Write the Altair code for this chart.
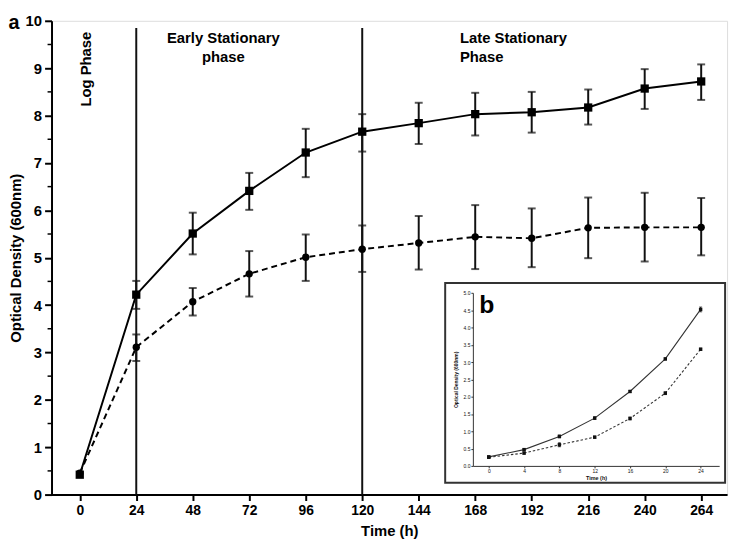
import altair as alt
import pandas as pd

# ---------------- data ----------------
time_h = [0, 24, 48, 72, 96, 120, 144, 168, 192, 216, 240, 264]

od_solid = [0.42, 4.22, 5.51, 6.41, 7.22, 7.66, 7.84, 8.03, 8.07, 8.17, 8.57, 8.72]
lo_solid = [0.42, 3.92, 5.07, 6.01, 6.70, 7.24, 7.40, 7.58, 7.64, 7.81, 8.14, 8.33]
hi_solid = [0.42, 4.51, 5.95, 6.79, 7.72, 8.03, 8.27, 8.48, 8.50, 8.55, 8.98, 9.08]

od_dash = [0.45, 3.11, 4.07, 4.66, 5.01, 5.18, 5.31, 5.44, 5.41, 5.63, 5.64, 5.64]
lo_dash = [0.45, 2.82, 3.78, 4.18, 4.51, 4.70, 4.75, 4.76, 4.80, 4.99, 4.92, 5.05]
hi_dash = [0.45, 3.38, 4.36, 5.14, 5.49, 5.68, 5.88, 6.11, 6.04, 6.27, 6.37, 6.26]

phase_bounds = [24, 120]
y_ticks_minor = [0.5, 1.5, 2.5, 3.5, 4.5, 5.5, 6.5, 7.5, 8.5, 9.5]

phase_text = ["Log Phase", "Early Stationary", "phase", "Late Stationary", "Phase"]
phase_x = [2.5, 61, 61, 161.5, 161.5]
phase_y = [8.98, 9.64, 9.24, 9.64, 9.24]

inset_time = [0, 4, 8, 12, 16, 20, 24]
inset_solid = [0.26, 0.47, 0.85, 1.38, 2.15, 3.09, 4.52]
inset_solid_err = [0.02, 0.03, 0.04, 0.04, 0.03, 0.03, 0.07]
inset_dash = [0.25, 0.37, 0.61, 0.83, 1.37, 2.10, 3.37]
inset_dash_err = [0.02, 0.03, 0.06, 0.03, 0.04, 0.04, 0.03]

FONT = "Liberation Sans"

main_df = pd.DataFrame({
    "t": time_h * 2,
    "od": od_solid + od_dash,
    "lo": lo_solid + lo_dash,
    "hi": hi_solid + hi_dash,
    "s": ["solid"] * len(time_h) + ["dash"] * len(time_h),
})
solid_df = main_df[main_df.s == "solid"]
dash_df = main_df[main_df.s == "dash"]
err_df = main_df[main_df.t > 0]

bounds_df = pd.DataFrame({"t": phase_bounds})
minor_df = pd.DataFrame({"v": y_ticks_minor})
phase_df = pd.DataFrame({"label": phase_text, "x": phase_x, "y": phase_y})

inset_df = pd.DataFrame({
    "t": inset_time * 2,
    "od": inset_solid + inset_dash,
    "lo": [v - e for v, e in zip(inset_solid, inset_solid_err)] + [v - e for v, e in zip(inset_dash, inset_dash_err)],
    "hi": [v + e for v, e in zip(inset_solid, inset_solid_err)] + [v + e for v, e in zip(inset_dash, inset_dash_err)],
    "s": ["solid"] * len(inset_time) + ["dash"] * len(inset_time),
})
inset_solid_df = inset_df[inset_df.s == "solid"]
inset_dash_df = inset_df[inset_df.s == "dash"]

# ---------------- main panel ----------------
xs = alt.Scale(domain=[-12, 275], nice=False, zero=False)
ys = alt.Scale(domain=[0, 10], nice=False, zero=False)
xaxis = alt.Axis(values=time_h, title="Time (h)", tickSize=6, tickWidth=2, domainWidth=2,
                 labelFontSize=14, labelFontWeight="bold", titleFontSize=15, titleFontWeight="bold",
                 labelPadding=3, titlePadding=6, grid=False, labelFlush=False,
                 domainColor="black", tickColor="black", labelColor="black", titleColor="black")
yaxis = alt.Axis(values=list(range(0, 11)), title="Optical Density (600nm)", tickSize=7, tickWidth=2,
                 domainWidth=2, labelFontSize=15, labelFontWeight="bold", titleFontSize=15,
                 titleFontWeight="bold", labelPadding=3, titlePadding=2, grid=False, labelFlush=False,
                 domainColor="black", tickColor="black", labelColor="black", titleColor="black")


def X(f):
    return alt.X(f, type="quantitative", scale=xs, axis=xaxis)


def Y(f):
    return alt.Y(f, type="quantitative", scale=ys, axis=yaxis)


rules = alt.Chart(bounds_df).mark_rule(color="#111", strokeWidth=2).encode(
    x=X("t"), y=alt.Y(datum=9.85, scale=ys, axis=yaxis), y2=alt.Y2(datum=0))

line_solid = alt.Chart(solid_df).mark_line(color="black", strokeWidth=2).encode(x=X("t"), y=Y("od"))
line_dash = alt.Chart(dash_df).mark_line(color="black", strokeWidth=2, strokeDash=[6, 4]).encode(
    x=X("t"), y=Y("od"))

err = alt.Chart(err_df).mark_rule(color="#111", strokeWidth=2).encode(x=X("t"), y=Y("lo"), y2="hi")
cap_lo = alt.Chart(err_df).mark_tick(color="#111", orient="horizontal", size=8, thickness=2).encode(
    x=X("t"), y=Y("lo"))
cap_hi = alt.Chart(err_df).mark_tick(color="#111", orient="horizontal", size=8, thickness=2).encode(
    x=X("t"), y=Y("hi"))

pts_solid = alt.Chart(solid_df).mark_square(color="black", size=70, opacity=1).encode(x=X("t"), y=Y("od"))
pts_dash = alt.Chart(dash_df).mark_circle(color="black", size=55, opacity=1).encode(x=X("t"), y=Y("od"))

minor = alt.Chart(minor_df).mark_rule(color="black", strokeWidth=1.5).encode(
    y=Y("v"), x=alt.value(-4), x2=alt.value(0))

log_txt = alt.Chart(phase_df.iloc[[0]]).mark_text(
    font=FONT, fontSize=15, fontWeight="bold", angle=270, align="center", baseline="middle",
    color="black").encode(x=X("x"), y=Y("y"), text="label")
early_txt = alt.Chart(phase_df.iloc[[1, 2]]).mark_text(
    font=FONT, fontSize=15, fontWeight="bold", align="center", baseline="middle",
    color="black").encode(x=X("x"), y=Y("y"), text="label")
late_txt = alt.Chart(phase_df.iloc[[3, 4]]).mark_text(
    font=FONT, fontSize=15, fontWeight="bold", align="left", baseline="middle",
    color="black").encode(x=X("x"), y=Y("y"), text="label")

a_label = alt.Chart(alt.Data(values=[{"k": "a"}])).mark_text(
    font=FONT, fontSize=20, fontWeight="bold", align="center", baseline="alphabetic",
    color="black").encode(x=alt.value(-38), y=alt.value(8), text="k:N")

main = alt.layer(rules, line_solid, line_dash, err, cap_lo, cap_hi, pts_solid, pts_dash,
                 minor, log_txt, early_txt, late_txt, a_label)

# ---------------- inset panel ----------------
ixs = alt.Scale(domain=[-1.8, 26.1], range=[426, 675], nice=False, zero=False)
iys = alt.Scale(domain=[0, 5], range=[450, 275], nice=False, zero=False)
ixaxis = alt.Axis(values=inset_time, orient="bottom", offset=-29, zindex=2, title="Time (h)", tickSize=2,
                  tickWidth=1, domainWidth=1, labelFontSize=5, titleFontSize=5.5, titleFontWeight="bold",
                  labelPadding=1, titlePadding=2, grid=False, labelFlush=False,
                  domainColor="#333", tickColor="#333", labelColor="#111", titleColor="#111")
iyaxis = alt.Axis(values=[0, 0.5, 1, 1.5, 2, 2.5, 3, 3.5, 4, 4.5, 5], format=".1f", orient="left",
                  offset=-426, zindex=2, title="Optical Density (600nm)", tickSize=2, tickWidth=1,
                  domainWidth=1, labelFontSize=5, titleFontSize=5, titleFontWeight="bold", labelPadding=1,
                  titlePadding=5, grid=False, labelFlush=False,
                  domainColor="#333", tickColor="#333", labelColor="#111", titleColor="#111")


def IX(f):
    return alt.X(f, type="quantitative", scale=ixs, axis=ixaxis)


def IY(f):
    return alt.Y(f, type="quantitative", scale=iys, axis=iyaxis)


frame = alt.Chart(alt.Data(values=[{"k": 1}])).mark_rect(
    fill="white", stroke="#333", strokeWidth=2).encode(
    x=alt.value(398), x2=alt.value(681), y=alt.value(265), y2=alt.value(467))

iline_solid = alt.Chart(inset_solid_df).mark_line(color="#333", strokeWidth=1.1).encode(
    x=IX("t"), y=IY("od"))
iline_dash = alt.Chart(inset_dash_df).mark_line(color="#333", strokeWidth=1.1, strokeDash=[2.5, 2]).encode(
    x=IX("t"), y=IY("od"))
ierr = alt.Chart(inset_df).mark_rule(color="#222", strokeWidth=1).encode(x=IX("t"), y=IY("lo"), y2="hi")
icap_lo = alt.Chart(inset_df).mark_tick(color="#222", orient="horizontal", size=3, thickness=1).encode(
    x=IX("t"), y=IY("lo"))
icap_hi = alt.Chart(inset_df).mark_tick(color="#222", orient="horizontal", size=3, thickness=1).encode(
    x=IX("t"), y=IY("hi"))
ipts = alt.Chart(inset_df).mark_square(color="#111", size=12, opacity=1).encode(x=IX("t"), y=IY("od"))

b_label = alt.Chart(alt.Data(values=[{"k": "b"}])).mark_text(
    font=FONT, fontSize=25, fontWeight="bold", align="center", baseline="alphabetic",
    color="black").encode(x=alt.value(440), y=alt.value(295), text="k:N")

inset = alt.layer(frame, iline_solid, iline_dash, ierr, icap_lo, icap_hi, ipts, b_label)

chart = alt.layer(main, inset).resolve_scale(x="independent", y="independent").properties(
    width=683, height=479,
    autosize=alt.AutoSizeParams(type="none"),
    padding={"left": 44, "top": 10, "right": 7, "bottom": 46},
).configure_view(stroke=None).configure(font=FONT).configure_axis(labelFont=FONT, titleFont=FONT)

chart.save("out.html", embed_options={"renderer": "svg", "actions": False})
